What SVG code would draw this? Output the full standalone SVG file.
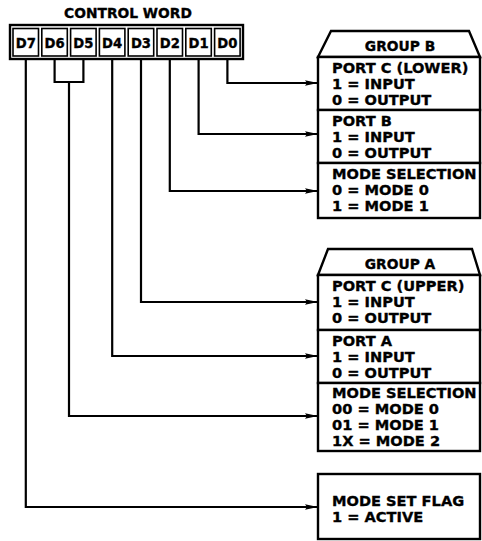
<svg xmlns="http://www.w3.org/2000/svg" width="482" height="541" viewBox="0 0 482 541">
<defs>
<marker id="ah" markerUnits="userSpaceOnUse" markerWidth="14" markerHeight="8" refX="13" refY="4" orient="auto">
<path d="M0,1.2 L13,4 L0,6.8 L2,4 Z" fill="#000"/>
</marker>
<style>
text{font-family:"DejaVu Sans","Liberation Sans",sans-serif;font-weight:bold;fill:#000;stroke:#000;stroke-width:0.35}
.t{font-size:14.6px}
.h{font-size:13.8px;text-anchor:middle}
.d{font-size:13.2px;text-anchor:middle}
.box{fill:#fff;stroke:#000;stroke-width:2.4}
.bit{fill:#fff;stroke:#000;stroke-width:1.6}
.c{fill:none;stroke:#000;stroke-width:2.2;stroke-linejoin:miter}
.ca{fill:none;stroke:#000;stroke-width:2.2;marker-end:url(#ah)}
</style>
</defs>
<rect width="482" height="541" fill="#fff"/>

<g id="control-word">
<text class="h" x="128" y="18">CONTROL WORD</text>
<rect class="box" x="10" y="25" width="233" height="34"/>
<rect class="bit" x="13" y="28.5" width="25.5" height="27.5"/>
<rect class="bit" x="41.8" y="28.5" width="25.5" height="27.5"/>
<rect class="bit" x="70.6" y="28.5" width="25.5" height="27.5"/>
<rect class="bit" x="99.4" y="28.5" width="25.5" height="27.5"/>
<rect class="bit" x="128.2" y="28.5" width="25.5" height="27.5"/>
<rect class="bit" x="157" y="28.5" width="25.5" height="27.5"/>
<rect class="bit" x="185.8" y="28.5" width="25.5" height="27.5"/>
<rect class="bit" x="214.6" y="28.5" width="25.5" height="27.5"/>
<text class="d" x="25.75" y="48">D7</text>
<text class="d" x="54.55" y="48">D6</text>
<text class="d" x="83.35" y="48">D5</text>
<text class="d" x="112.15" y="48">D4</text>
<text class="d" x="140.95" y="48">D3</text>
<text class="d" x="169.75" y="48">D2</text>
<text class="d" x="198.55" y="48">D1</text>
<text class="d" x="227.35" y="48">D0</text>
</g>

<g id="group-b">
<path class="box" d="M318,57 L331,31 L469,31 L480,57 Z"/>
<text class="h" x="400" y="51">GROUP B</text>
<rect class="box" x="318" y="57" width="162" height="53"/>
<text class="t" x="332" y="73">PORT C (LOWER)</text>
<text class="t" x="332" y="89">1 = INPUT</text>
<text class="t" x="332" y="105">0 = OUTPUT</text>
<rect class="box" x="318" y="110" width="162" height="53"/>
<text class="t" x="332" y="126">PORT B</text>
<text class="t" x="332" y="142">1 = INPUT</text>
<text class="t" x="332" y="158">0 = OUTPUT</text>
<rect class="box" x="318" y="163" width="162" height="55"/>
<text class="t" x="332" y="179">MODE SELECTION</text>
<text class="t" x="332" y="195">0 = MODE 0</text>
<text class="t" x="332" y="211">1 = MODE 1</text>
</g>

<g id="group-a">
<path class="box" d="M318,275 L328,249 L472,249 L480,275 Z"/>
<text class="h" x="400" y="269">GROUP A</text>
<rect class="box" x="318" y="275" width="162" height="55"/>
<text class="t" x="332" y="291">PORT C (UPPER)</text>
<text class="t" x="332" y="307">1 = INPUT</text>
<text class="t" x="332" y="323">0 = OUTPUT</text>
<rect class="box" x="318" y="330" width="162" height="53"/>
<text class="t" x="332" y="346">PORT A</text>
<text class="t" x="332" y="362">1 = INPUT</text>
<text class="t" x="332" y="378">0 = OUTPUT</text>
<rect class="box" x="318" y="383" width="162" height="68"/>
<text class="t" x="332" y="398">MODE SELECTION</text>
<text class="t" x="332" y="414">00 = MODE 0</text>
<text class="t" x="332" y="430">01 = MODE 1</text>
<text class="t" x="332" y="446">1X = MODE 2</text>
</g>

<g id="mode-set-flag">
<rect class="box" x="318" y="474" width="162" height="65"/>
<text class="t" x="332" y="506">MODE SET FLAG</text>
<text class="t" x="332" y="522">1 = ACTIVE</text>
</g>

<g id="connectors">
<path class="ca" d="M227.4,59 V83 H318"/>
<path class="ca" d="M198.6,59 V134 H318"/>
<path class="ca" d="M169.8,59 V191 H318"/>
<path class="ca" d="M141,59 V302 H318"/>
<path class="ca" d="M112.2,59 V356 H318"/>
<path class="c" d="M54.6,59 V82 H83.4 V59"/>
<path class="ca" d="M69,82 V416 H318"/>
<path class="ca" d="M25.8,59 V507 H318"/>
</g>
</svg>
